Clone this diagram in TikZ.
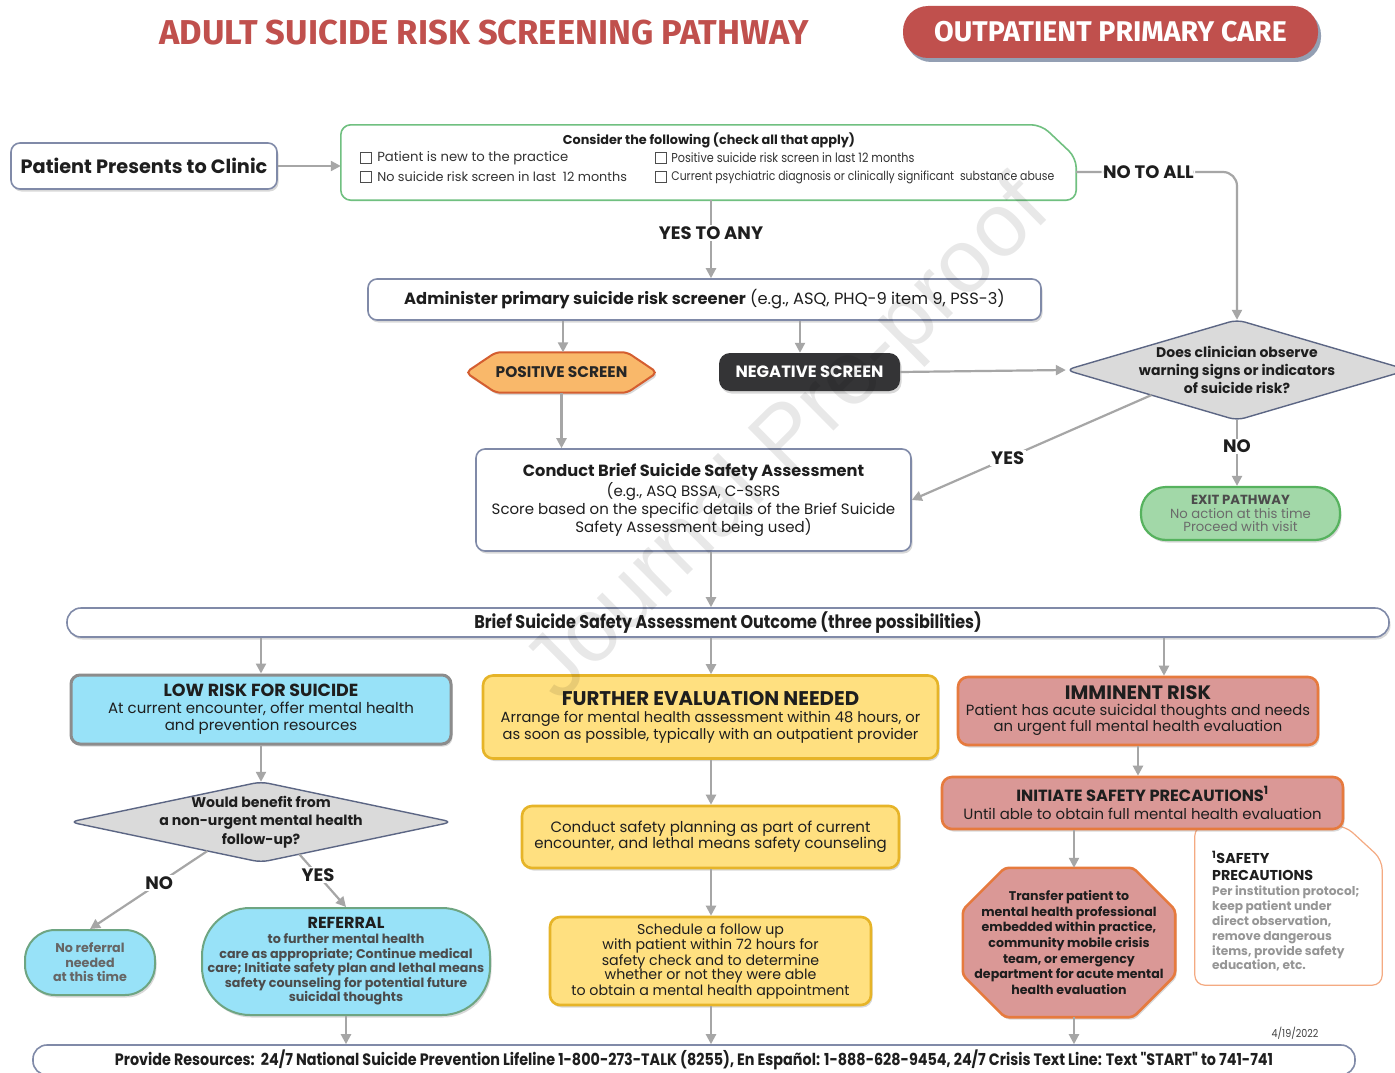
\documentclass[tikz,border=0pt]{standalone}
\usepackage{fontspec}
\setmainfont{Poppins}
\newfontfamily\condfont[FakeStretch=0.87]{Poppins}
\newfontfamily\titlefont{Fira Sans}
\newfontfamily\wmfont{Liberation Sans}
\usetikzlibrary{shadows,arrows.meta,calc}
\newcommand{\fsz}[2]{\fontsize{#1}{#2}\selectfont}
\definecolor{tred}{RGB}{192,80,77}
\definecolor{shblue}{RGB}{120,135,160}
\definecolor{agray}{RGB}{166,166,166}
\definecolor{bblue}{RGB}{128,138,168}
\definecolor{cgreen}{RGB}{112,192,128}
\definecolor{cyanf}{RGB}{152,226,248}
\definecolor{yelf}{RGB}{255,224,128}
\definecolor{yelb}{RGB}{230,180,40}
\definecolor{pinkf}{RGB}{218,152,150}
\definecolor{orb}{RGB}{230,122,62}
\definecolor{posf}{RGB}{249,184,106}
\definecolor{posb}{RGB}{212,94,48}
\definecolor{darkf}{RGB}{52,52,54}
\definecolor{dmf}{RGB}{218,218,218}
\definecolor{dmb}{RGB}{92,102,132}
\definecolor{exf}{RGB}{162,216,168}
\definecolor{exb}{RGB}{86,178,94}
\definecolor{noteb}{RGB}{244,170,130}
\definecolor{txt}{RGB}{30,30,30}
\definecolor{gtxt}{RGB}{150,150,150}
\definecolor{refb}{RGB}{110,165,130}
\pgfdeclarelayer{back}\pgfdeclarelayer{bg}\pgfdeclarelayer{fg}
\pgfsetlayers{back,bg,main,fg}
\tikzset{
  arr/.style={draw=agray, line width=2.2pt, -{Triangle[length=10pt,width=10pt]}},
  lbl/.style={fill=white, inner sep=1.5pt, text=txt, font=\bfseries\fsz{18}{20}},
  ghost/.style={inner sep=0pt, align=center, text=txt},
  shad/.style={drop shadow={shadow xshift=1.5pt, shadow yshift=-2.5pt, opacity=0.3}},
  wbox/.style={ghost, draw=bblue, line width=1.6pt, rounded corners=9pt, fill=white, shad},
  ybox/.style={ghost, fill=yelf, draw=yelb, line width=2.6pt, rounded corners=10pt, shad},
  pbox/.style={ghost, fill=pinkf, draw=orb, line width=2.6pt, rounded corners=10pt, shad},
  chk/.style={draw=black!70, line width=0.8pt, minimum size=11.5pt, inner sep=0pt},
}
\begin{document}
\begin{tikzpicture}[x=1pt,y=-1pt]
\begin{pgfonlayer}{back}\fill[white] (0,0) rectangle (1395,1073);\end{pgfonlayer}
\useasboundingbox (0,0) rectangle (1395,1073);
\coordinate (colL) at (261,0);
\coordinate (colM) at (711,0);
\coordinate (colR) at (1164,0);
\coordinate (colO) at (1074,0);

% title
\node[font=\titlefont\bfseries\fsz{34.5}{38}, text=tred] (title) at (484,33) {ADULT SUICIDE RISK SCREENING PATHWAY};
\node[fill=tred, rounded corners=25pt, minimum width=415pt, minimum height=52pt, inner sep=0pt, text=white,
  font=\titlefont\bfseries\fsz{28.5}{32}, drop shadow={shadow xshift=3pt, shadow yshift=-4pt, fill=shblue, opacity=0.8}] (opc) at (1110.5,32) {OUTPATIENT PRIMARY CARE};

% patient
\node[wbox, minimum width=266pt, minimum height=46pt, font=\bfseries\fsz{19.3}{22}] (patient) at (144,166) {Patient Presents to Clinic};

% consider
\node[ghost, minimum width=735pt, minimum height=75pt] (consider) at (708.5,162.5) {};
\begin{pgfonlayer}{bg}
\draw[draw=cgreen, line width=1.6pt, fill=white, rounded corners=10pt] (consider.south west) -- (consider.north west) -- ($(consider.north east)+(-35,0)$) -- ($(consider.north east)+(0,33)$) -- (consider.south east) -- cycle;
\end{pgfonlayer}
\node[ghost, font=\bfseries\fsz{12.8}{14}] (ctitle) at (709,140) {Consider the following (check all that apply)};
\node[chk] (cb1) at (366,158) {};
\node[chk] (cb2) at (366,177) {};
\node[chk] (cb3) at (661,158) {};
\node[chk] (cb4) at (661,177) {};
\node[ghost, anchor=west, font=\fsz{13.2}{14}, text=black!80] (c1) at ([xshift=5pt]cb1.east) {Patient is new to the practice};
\node[ghost, anchor=west, font=\fsz{12.8}{14}, text=black!80] (c2) at ([xshift=5pt]cb2.east) {No suicide risk screen in last\ \ 12 months};
\node[ghost, anchor=west, font=\condfont\fsz{12.9}{14}, text=black!80] (c3) at ([xshift=4pt]cb3.east) {Positive suicide risk screen in last 12 months};
\node[ghost, anchor=west, font=\condfont\fsz{12.5}{14}, text=black!80] (c4) at ([xshift=4pt]cb4.east) {Current psychiatric diagnosis or clinically significant\ \ substance abuse};

% administer
\node[wbox, minimum width=673pt, minimum height=41pt, font=\fsz{16.3}{18}] (admin) at (704.5,299.5) {\textbf{Administer primary suicide risk screener} (e.g., ASQ, PHQ-9 item 9, PSS-3)};

% positive / negative
\node[ghost, minimum width=191pt, minimum height=40pt, font=\bfseries\fsz{15.4}{16}, text=black!85] (pos) at (561.5,372.5) {POSITIVE SCREEN};
\begin{pgfonlayer}{bg}
\draw[draw=posb, line width=2pt, fill=posf, rounded corners=5pt, shad] (pos.west) -- ($(pos.north west)+(30,0)$) -- ($(pos.north east)+(-30,0)$) -- (pos.east) -- ($(pos.south east)+(-30,0)$) -- ($(pos.south west)+(30,0)$) -- cycle;
\end{pgfonlayer}
\node[ghost, fill=darkf, rounded corners=11pt, minimum width=181pt, minimum height=38pt, text=white, font=\bfseries\fsz{16.4}{18}, shad] (neg) at (809.5,372) {NEGATIVE SCREEN};

% diamond 1
\node[ghost, minimum width=342pt, minimum height=100pt, font=\bfseries\fsz{14}{18}] (dm1) at (1237,370) {Does clinician observe\\warning signs or indicators\\of suicide risk?};
\begin{pgfonlayer}{bg}
\draw[draw=dmb, line width=1.4pt, fill=dmf, rounded corners=8pt] (dm1.west) -- (dm1.north) -- (dm1.east) -- (dm1.south) -- cycle;
\end{pgfonlayer}

% exit
\node[ghost, fill=exf, draw=exb, line width=2.2pt, rounded corners=25pt, minimum width=199pt, minimum height=53pt, text=black!58, font=\fsz{13.2}{13.5}, shad] (exit) at (1240.5,513.5) {\textbf{\color{black!70}EXIT PATHWAY}\\No action at this time\\Proceed with visit};

% conduct
\node[wbox, minimum width=435pt, minimum height=102pt, font=\fsz{15}{18}] (conduct) at (693.5,500) {{\bfseries\fsz{16.2}{18}Conduct Brief Suicide Safety Assessment}\\(e.g., ASQ BSSA, C-SSRS\\Score based on the specific details of the Brief Suicide\\Safety Assessment being used)};

% outcome
\node[ghost, draw=bblue, line width=1.6pt, rounded corners=14pt, fill=white, minimum width=1322pt, minimum height=29pt, font=\condfont\bfseries\fsz{18.4}{20}, shad] (outcome) at (728,622.5) {Brief Suicide Safety Assessment Outcome (three possibilities)};

% low risk column
\node[ghost, fill=cyanf, draw=black!45, line width=3pt, rounded corners=9pt, minimum width=380pt, minimum height=69pt, font=\fsz{15}{17}, shad] (low) at (261,709.5) {{\bfseries\fsz{17.5}{19}LOW RISK FOR SUICIDE}\\At current encounter, offer mental health\\and prevention resources};
\node[ghost, minimum width=382pt, minimum height=80pt, font=\bfseries\fsz{14.1}{18.5}] (dm2) at (261,822) {Would benefit from\\a non-urgent mental health\\follow-up?};
\begin{pgfonlayer}{bg}
\draw[draw=dmb, line width=1.4pt, fill=dmf, rounded corners=8pt] (dm2.west) -- (dm2.north) -- (dm2.east) -- (dm2.south) -- cycle;
\end{pgfonlayer}
\node[ghost, fill=cyanf, draw=refb, line width=2pt, rounded corners=30pt, minimum width=130pt, minimum height=65pt, text=black!60, font=\bfseries\fsz{12.7}{14.5}, shad] (noref) at (90,962.5) {No referral\\needed\\at this time};
\node[ghost, fill=cyanf, draw=refb, line width=2pt, rounded corners=48pt, minimum width=288pt, minimum height=107pt, text=black!70, font=\bfseries\fsz{12.7}{14.6}, shad] (refer) at (346,961.5) {{\color{txt}\fsz{16}{16}REFERRAL}\\to further mental health\\care as appropriate; Continue medical\\care; Initiate safety plan and lethal means\\safety counseling for potential future\\suicidal thoughts};

% further column
\node[ybox, minimum width=455pt, minimum height=83pt, font=\fsz{14.7}{17}] (further) at (710.5,717) {{\bfseries\fsz{19.8}{20}FURTHER EVALUATION NEEDED}\\Arrange for mental health assessment within 48 hours, or\\as soon as possible, typically with an outpatient provider};
\node[ybox, minimum width=377pt, minimum height=62pt, font=\fsz{15}{16}] (safety) at (710.5,837) {Conduct safety planning as part of current\\encounter, and lethal means safety counseling};
\node[ybox, minimum width=321pt, minimum height=88pt, font=\fsz{14.2}{14.3}] (sched) at (710.5,961) {Schedule a follow up\\with patient within 72 hours for\\safety check and to determine\\whether or not they were able\\to obtain a mental health appointment};

% imminent column
\node[pbox, minimum width=360pt, minimum height=68pt, font=\fsz{14.8}{16}] (imm) at (1138,711) {{\bfseries\fsz{19.4}{20}IMMINENT RISK}\\Patient has acute suicidal thoughts and needs\\an urgent full mental health evaluation};
\node[pbox, minimum width=401pt, minimum height=52pt, font=\fsz{14.9}{18}] (init) at (1142.5,803) {{\bfseries\fsz{16.2}{18}INITIATE SAFETY PRECAUTIONS\textsuperscript{1}}\\Until able to obtain full mental health evaluation};
\node[ghost, minimum width=212pt, minimum height=149pt, font=\bfseries\fsz{12.6}{15.7}] (oct) at (1069,942.5) {Transfer patient to\\mental health professional\\embedded within practice,\\community mobile crisis\\team, or emergency\\department for acute mental\\health evaluation};
\begin{pgfonlayer}{bg}
\draw[draw=orb, line width=2.6pt, fill=pinkf, rounded corners=4pt, shad] ($(oct.north west)+(42,0)$) -- ($(oct.north east)+(-42,0)$) -- ($(oct.north east)+(0,42)$) -- ($(oct.south east)+(0,-42)$) -- ($(oct.south east)+(-42,0)$) -- ($(oct.south west)+(42,0)$) -- ($(oct.south west)+(0,-42)$) -- ($(oct.north west)+(0,42)$) -- cycle;
\end{pgfonlayer}

% note
\node[ghost, minimum width=187pt, minimum height=159pt] (note) at (1288.5,905.5) {};
\begin{pgfonlayer}{bg}
\draw[draw=noteb, line width=1.2pt, fill=white, rounded corners=10pt] (note.south west) -- (note.north west) -- ($(note.north east)+(-37,0)$) -- ($(note.north east)+(0,34)$) -- (note.south east) -- cycle;
\end{pgfonlayer}
\node[ghost, anchor=north west, align=left, font=\bfseries\fsz{14.3}{17}] (nt1) at (1212,851) {\textsuperscript{1}SAFETY\\PRECAUTIONS};
\node[ghost, anchor=north west, align=left, text=gtxt, font=\bfseries\fsz{12.2}{14.8}] (nt2) at (1212,886) {Per institution protocol;\\keep patient under\\direct observation,\\remove dangerous\\items, provide safety\\education, etc.};

% date & footer
\node[ghost, font=\condfont\fsz{11}{12}, text=black!75] (date) at (1295,1033) {4/19/2022};
\node[ghost, draw=bblue, line width=1.6pt, rounded corners=14pt, fill=white, minimum width=1322pt, minimum height=30pt, font=\condfont\bfseries\fsz{16.5}{18}] (footer) at (694,1060) {Provide Resources:\ \ 24/7 National Suicide Prevention Lifeline 1-800-273-TALK (8255), En Español: 1-888-628-9454, 24/7 Crisis Text Line: Text "START" to 741-741};

% connectors
\draw[arr] (patient.east) -- (patient.east -| consider.west);
\draw[arr] (consider.south -| colM) -- node[lbl, pos=0.42] {YES TO ANY} (admin.north -| colM);
\coordinate (nta) at (1076,172);
\draw[arr, rounded corners=14pt] (nta) -- node[lbl, pos=0.45] {NO TO ALL} (dm1.north |- nta) -- (dm1.north);
\draw[arr] ([xshift=1.5pt]pos.north |- admin.south) -- ([xshift=1.5pt]pos.north);
\draw[arr] ([xshift=-9.5pt]neg.north |- admin.south) -- ([xshift=-9.5pt]neg.north);
\draw[arr] (neg.east) -- (dm1.west);
\draw[arr] (pos.south) -- (pos.south |- conduct.north);
\coordinate (yst) at ($(dm1.west)!0.5!(dm1.south)$);
\draw[arr] (yst) -- node[lbl, pos=0.6] {YES} (conduct.east);
\draw[arr] (dm1.south) -- node[lbl, pos=0.4] {NO} (dm1.south |- exit.north);
\draw[arr] (conduct.south -| colM) -- (outcome.north -| colM);
\draw[arr] (outcome.south -| colL) -- (low.north -| colL);
\draw[arr] (outcome.south -| colM) -- (further.north -| colM);
\draw[arr] (outcome.south -| colR) -- (imm.north -| colR);
\draw[arr] (low.south) -- (dm2.north);
\coordinate (nost) at ($(dm2.west)!0.72!(dm2.south)$);
\coordinate (yest) at ($(dm2.south)!0.2!(dm2.east)$);
\draw[arr] (nost) -- node[lbl, pos=0.41] {NO} (noref.north);
\draw[arr] (yest) -- node[lbl, pos=0.4] {YES} (refer.north);
\draw[arr] (further.south -| colM) -- (safety.north -| colM);
\draw[arr] (safety.south -| colM) -- (sched.north -| colM);
\draw[arr] (sched.south -| colM) -- (footer.north -| colM);
\draw[arr] (refer.south) -- (footer.north -| refer.south);
\draw[arr] (imm.south) -- (init.north -| imm.south);
\draw[arr] (init.south -| colO) -- (oct.north -| colO);
\draw[arr] (oct.south -| colO) -- (footer.north -| colO);

% watermark
\begin{pgfonlayer}{fg}
\node[rotate=44.7, text=black, opacity=0.09, font=\wmfont\fsz{90}{90}] (wm) at (790,442) {Journal Pre-proof};
\end{pgfonlayer}
\end{tikzpicture}
\end{document}
